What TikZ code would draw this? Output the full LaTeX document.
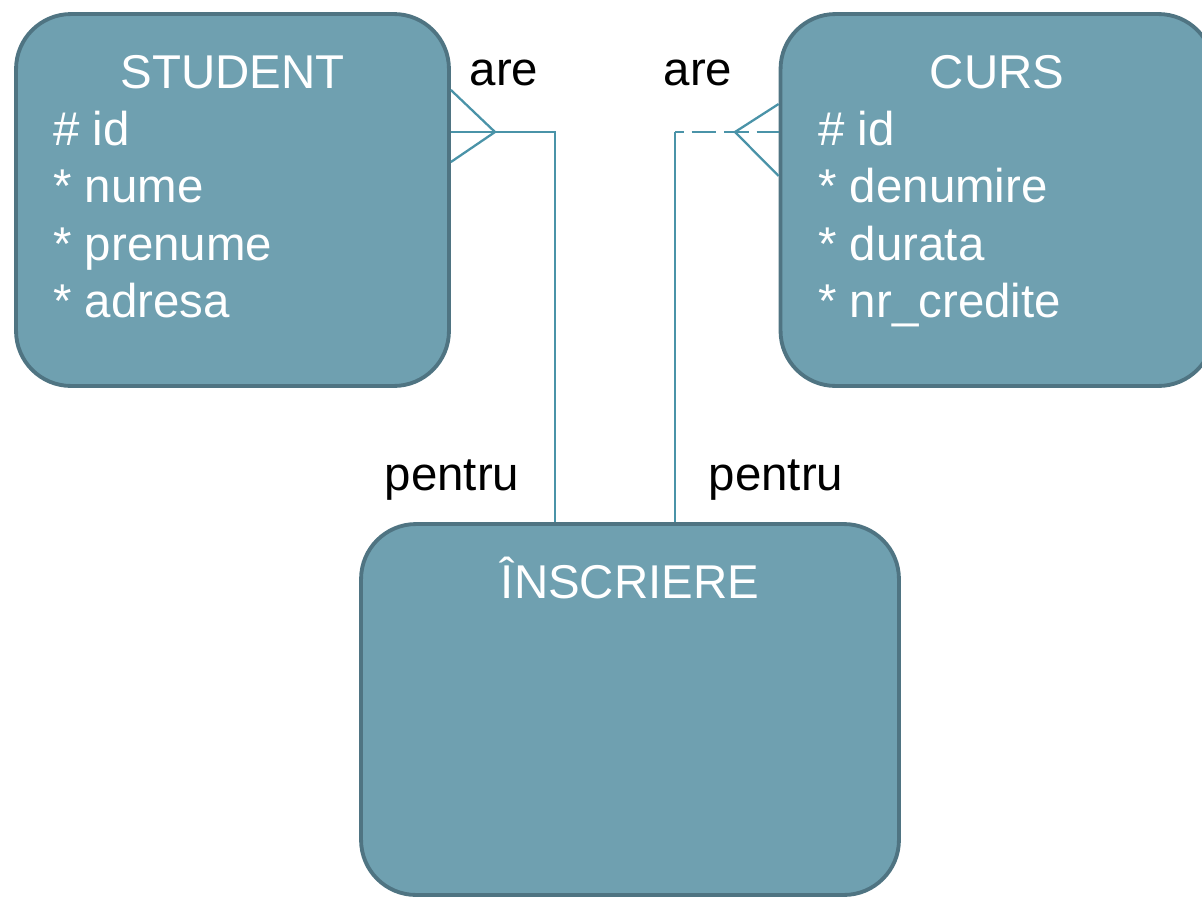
\documentclass[tikz,border=0pt]{standalone}
\usepackage{fontspec}
\setmainfont{Liberation Sans}
\usetikzlibrary{positioning}

\definecolor{entfill}{HTML}{6FA0B0}
\definecolor{entdraw}{HTML}{4F7482}
\definecolor{relline}{HTML}{4A93A8}

\begin{document}
\begin{tikzpicture}[x=0.02cm,y=-0.02cm,
  entity/.style={draw=entdraw,line width=2.2pt,fill=entfill,rounded corners=1.1cm,inner sep=0pt},
  title/.style={text=white,font=\fontsize{27}{32}\selectfont,anchor=base},
  attr/.style={text=white,font=\fontsize{27}{32}\selectfont,anchor=base west,inner sep=0pt},
  lbl/.style={font=\fontsize{27}{32}\selectfont,anchor=base},
  rel/.style={relline,line width=1.3pt}]
\useasboundingbox (0,0) rectangle (1202,899);

% entitati
\node [entity,minimum width=8.66cm,minimum height=7.44cm] (student) at (232.5,200) {};
\node [entity,minimum width=8.66cm,minimum height=7.44cm] (curs) at (997,200) {};
\node [entity,minimum width=10.76cm,minimum height=7.42cm] (inscriere) at (630,709.5) {};

\node [title] (student-t) at (232.5,88) {STUDENT};
\node [title] (curs-t) at (997,88) {CURS};
\node [title] (inscriere-t) at (630,598) {ÎNSCRIERE};

\foreach \txt/\i in {\# id/0,* nume/1,* prenume/2,* adresa/3}
  {  \node [attr] (s-\i) at (53,145+57.5*\i) {\txt};}
\foreach \txt/\i in {\# id/0,* denumire/1,* durata/2,* nr\_credite/3}
  {  \node [attr] (c-\i) at (818,145+57.5*\i) {\txt};}

% relatii
\coordinate (s-apex) at (495,132);
\coordinate (s-bend) at (555,132);
\coordinate (c-apex) at (735,132);
\coordinate (c-bend) at (675,132);

\draw [rel] (student.east |- s-apex) -- (s-bend) -- (s-bend |- inscriere.north);
\draw [rel] (student.east |- 0,90) -- (s-apex) -- (student.east |- 0,162);

\draw [rel] (c-bend |- inscriere.north) -- (c-bend);
\draw [rel,dash pattern=on 14pt off 4.5pt,dash phase=9pt] (c-bend) -- (curs.west |- c-apex);
\draw [rel] (curs.west |- 0,104) -- (c-apex) -- (curs.west |- 0,176);

\node [lbl] (are-s) at (504,85) {are};
\node [lbl] (are-c) at (698,85) {are};
\node [lbl] (pentru-s) at (452,490) {pentru};
\node [lbl] (pentru-c) at (776,490) {pentru};
\end{tikzpicture}
\end{document}
